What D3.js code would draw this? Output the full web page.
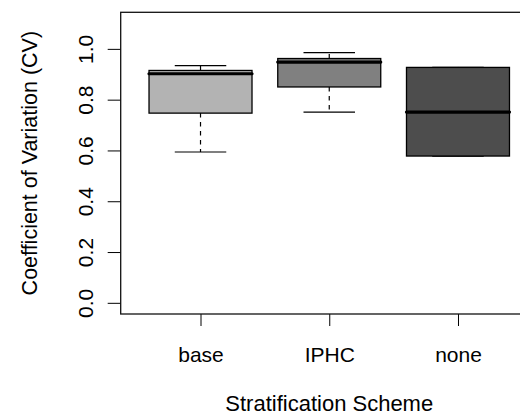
<!DOCTYPE html>
<html>
<head>
<meta charset="utf-8">
<script src="https://cdn.jsdelivr.net/npm/d3@7"></script>
<style>
  html, body { margin: 0; padding: 0; background: #fff; }
  svg { display: block; font-family: "Liberation Sans", Arial, sans-serif; }
</style>
</head>
<body>
<div id="chart"></div>
<script>
// data
const categories = ['base', 'IPHC', 'none'];
const lowerWhisker = [0.594, 0.751, 0.578];
const lowerQuartile = [0.747, 0.850, 0.578];
const medians = [0.902, 0.948, 0.751];
const upperQuartile = [0.915, 0.962, 0.927];
const upperWhisker = [0.934, 0.985, 0.927];
const yTicks = [0, 0.2, 0.4, 0.6, 0.8, 1.0];
const fills = ['#b3b3b3', '#808080', '#4d4d4d'];

const width = 520, height = 415;
const tickFont = 21;
const titleFont = 22;

const boxes = categories.map((c, i) => ({
    name: c,
    pos: i + 1,
    lo: lowerWhisker[i],
    q1: lowerQuartile[i],
    med: medians[i],
    q3: upperQuartile[i],
    hi: upperWhisker[i],
    fill: fills[i]
}));

// R style axis ranges: 4% padding around xlim/ylim
const x = d3.scaleLinear().domain([0.38, 3.62]).range([120.7, 537.8]);
const y = d3.scaleLinear().domain([-0.044, 1.144]).range([314, 12.3]);

const svg = d3.select('#chart')
    .append('svg')
    .attr('width', width)
    .attr('height', height);

const plot = svg.append('g');

const whisk = plot.selectAll('g.box')
    .data(boxes)
    .enter()
    .append('g')
    .attr('class', 'box');

// whiskers (dashed)
whisk.append('line')
    .attr('x1', d => x(d.pos)).attr('x2', d => x(d.pos))
    .attr('y1', d => y(d.q1)).attr('y2', d => y(d.lo))
    .attr('stroke', '#000').attr('stroke-width', 1.2)
    .attr('stroke-dasharray', '4.5,4.5');
whisk.append('line')
    .attr('x1', d => x(d.pos)).attr('x2', d => x(d.pos))
    .attr('y1', d => y(d.q3)).attr('y2', d => y(d.hi))
    .attr('stroke', '#000').attr('stroke-width', 1.2)
    .attr('stroke-dasharray', '4.5,4.5');

// staples
['lo', 'hi'].forEach(k => {
    whisk.append('line')
        .attr('x1', d => x(d.pos - 0.2)).attr('x2', d => x(d.pos + 0.2))
        .attr('y1', d => y(d[k])).attr('y2', d => y(d[k]))
        .attr('stroke', '#000').attr('stroke-width', 1.2);
});

// boxes
whisk.append('rect')
    .attr('x', d => x(d.pos - 0.4))
    .attr('width', d => x(d.pos + 0.4) - x(d.pos - 0.4))
    .attr('y', d => y(d.q3))
    .attr('height', d => y(d.q1) - y(d.q3))
    .attr('fill', d => d.fill)
    .attr('stroke', '#000')
    .attr('stroke-width', 1.3);

// medians
whisk.append('line')
    .attr('x1', d => x(d.pos - 0.4)).attr('x2', d => x(d.pos + 0.4))
    .attr('y1', d => y(d.med)).attr('y2', d => y(d.med))
    .attr('stroke', '#000').attr('stroke-width', 3.2)
    .attr('stroke-linecap', 'round');

// y axis
const yAxis = svg.append('g')
    .attr('transform', `translate(${x.range()[0]},0)`)
    .call(d3.axisLeft(y).tickValues(yTicks).tickFormat(d3.format('.1f')).tickSize(13).tickSizeOuter(0));
yAxis.select('.domain').remove();
yAxis.selectAll('.tick line').attr('stroke', '#000');
yAxis.selectAll('.tick text')
    .attr('transform', 'rotate(-90)')
    .attr('x', 0)
    .attr('y', -27.4)
    .attr('dy', 0)
    .attr('text-anchor', 'middle')
    .attr('font-size', tickFont)
    .attr('font-family', '"Liberation Sans", Arial, sans-serif')
    .attr('fill', '#000');

// x axis
const xAxis = svg.append('g')
    .attr('transform', `translate(0,${y.range()[0]})`)
    .call(d3.axisBottom(x).tickValues(boxes.map(d => d.pos)).tickFormat((d, i) => categories[i]).tickSize(12).tickSizeOuter(0));
xAxis.select('.domain').remove();
xAxis.selectAll('.tick line').attr('stroke', '#000');
xAxis.selectAll('.tick text')
    .attr('y', 362 - y.range()[0])
    .attr('dy', 0)
    .attr('font-size', tickFont)
    .attr('font-family', '"Liberation Sans", Arial, sans-serif')
    .attr('fill', '#000');

// plot frame
svg.append('rect')
    .attr('x', x.range()[0])
    .attr('y', y.range()[1])
    .attr('width', x.range()[1] - x.range()[0])
    .attr('height', y.range()[0] - y.range()[1])
    .attr('fill', 'none')
    .attr('stroke', '#111')
    .attr('stroke-width', 1.3);

// axis titles
svg.append('text')
    .attr('x', (x.range()[0] + x.range()[1]) / 2)
    .attr('y', 411)
    .attr('text-anchor', 'middle')
    .attr('font-size', titleFont)
    .text('Stratification Scheme');

svg.append('text')
    .attr('transform', `translate(36.7,${(y.range()[0] + y.range()[1]) / 2}) rotate(-90)`)
    .attr('text-anchor', 'middle')
    .attr('font-size', 21.5)
    .text('Coefficient of Variation (CV)');
</script>
</body>
</html>
